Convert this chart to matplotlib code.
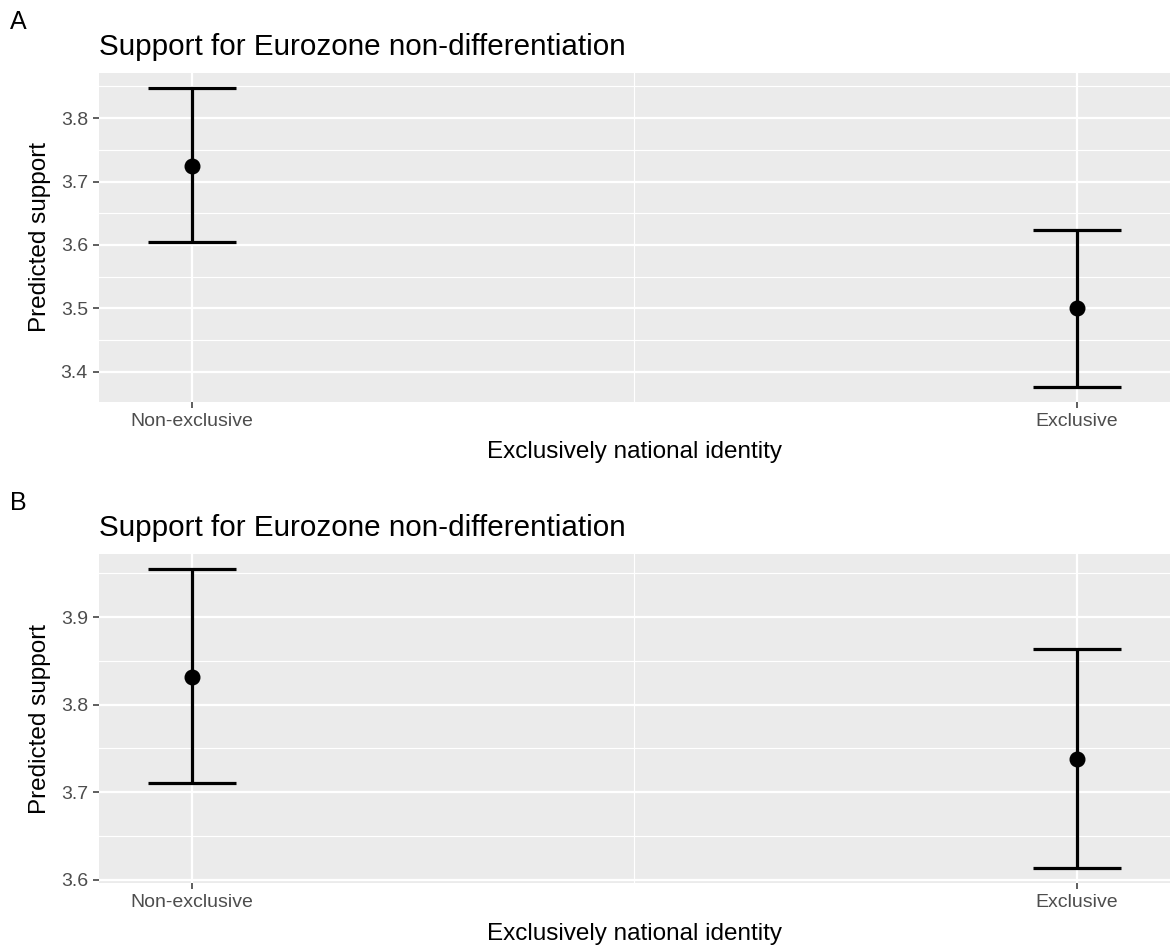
import matplotlib.pyplot as plt
import numpy as np

plt.rcParams['font.family'] = ['Liberation Sans', 'DejaVu Sans']

groups = ['Non-exclusive', 'Exclusive']
title = 'Support for Eurozone non-differentiation'

# panel A: predicted support with confidence limits
a_est = [3.725, 3.500]
a_low = [3.604, 3.376]
a_high = [3.848, 3.623]
a_ticks = [3.4, 3.5, 3.6, 3.7, 3.8]

# panel B
b_est = [3.832, 3.738]
b_low = [3.710, 3.613]
b_high = [3.955, 3.863]
b_ticks = [3.6, 3.7, 3.8, 3.9]

W, H = 1172, 949
fig = plt.figure(figsize=(W / 100, H / 100), dpi=100)


def panel(top, bottom, est, low, high, yticks, letter):
    ax = fig.add_axes([99 / W, 1 - bottom / H, (1170 - 99) / W, (bottom - top) / H])
    ax.set_facecolor('#EBEBEB')
    x = np.arange(1, len(groups) + 1)
    cap = 0.05
    for xi, lo, hi in zip(x, low, high):
        ax.plot([xi, xi], [lo, hi], color='black', lw=2.3, solid_capstyle='butt', zorder=3)
        ax.plot([xi - cap, xi + cap], [lo, lo], color='black', lw=2.3, solid_capstyle='butt', zorder=3)
        ax.plot([xi - cap, xi + cap], [hi, hi], color='black', lw=2.3, solid_capstyle='butt', zorder=3)
    ax.plot(x, est, 'o', color='black', ms=10.5, zorder=4)

    # ggplot-style 5% expansion
    xr = (x.min() - cap, x.max() + cap)
    dx = (xr[1] - xr[0]) * 0.05
    ax.set_xlim(xr[0] - dx, xr[1] + dx)
    yr = (min(low), max(high))
    dy = (yr[1] - yr[0]) * 0.05

    ax.set_xticks(x)
    ax.set_xticklabels(groups)
    ax.set_xticks([1.5], minor=True)
    ax.set_yticks(yticks)
    ax.set_yticklabels([f'{t:.1f}' for t in yticks])
    ax.set_yticks([t + 0.05 for t in yticks] + [yticks[0] - 0.05], minor=True)
    ax.set_ylim(yr[0] - dy, yr[1] + dy)

    ax.grid(True, which='major', color='white', lw=1.6)
    ax.grid(True, which='minor', color='white', lw=0.8)
    ax.set_axisbelow(True)
    for s in ax.spines.values():
        s.set_visible(False)
    ax.tick_params(which='major', length=4, width=1.1, color='#333333',
                   labelcolor='#4D4D4D', labelsize=14, pad=4)
    ax.tick_params(which='minor', length=0)

    ax.set_xlabel('Exclusively national identity', fontsize=17.5, labelpad=8)
    ax.set_ylabel('Predicted support', fontsize=17.5, labelpad=7)
    ax.set_title(title, loc='left', fontsize=21.3, pad=13)
    fig.text(10 / W, 1 - (top - 51) / H, letter, fontsize=18, va='center', ha='left')
    return ax


panel(72.7, 402, a_est, a_low, a_high, a_ticks, 'A')
panel(554, 883.3, b_est, b_low, b_high, b_ticks, 'B')

fig.savefig('out.png', dpi=100, facecolor='white')
